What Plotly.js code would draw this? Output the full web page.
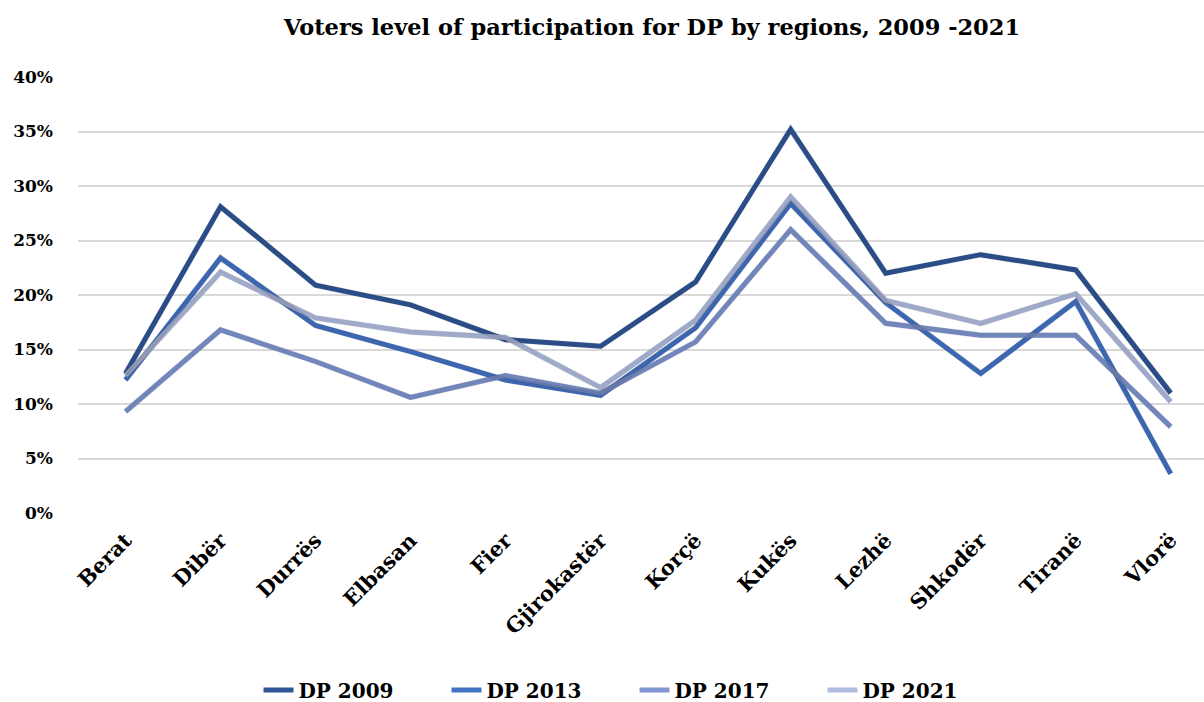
<!DOCTYPE html>
<html>
<head>
<meta charset="utf-8">
<script src="https://cdn.plot.ly/plotly-3.0.1.min.js"></script>
<style>
  html, body { margin: 0; padding: 0; background: #fff; }
  #chart { width: 1204px; height: 702px; }
</style>
</head>
<body>
<div id="chart"></div>
<script>
const regions = ["Berat", "Dibër", "Durrës", "Elbasan", "Fier", "Gjirokastër", "Korçë", "Kukës", "Lezhë", "Shkodër", "Tiranë", "Vlorë"];
const dp2009 = [0.128, 0.281, 0.209, 0.191, 0.159, 0.153, 0.212, 0.352, 0.220, 0.237, 0.223, 0.110];
const dp2013 = [0.122, 0.234, 0.172, 0.148, 0.122, 0.108, 0.170, 0.284, 0.193, 0.128, 0.194, 0.036];
const dp2017 = [0.093, 0.168, 0.139, 0.106, 0.126, 0.110, 0.157, 0.260, 0.174, 0.163, 0.163, 0.079];
const dp2021 = [0.126, 0.221, 0.179, 0.166, 0.161, 0.115, 0.177, 0.290, 0.195, 0.174, 0.201, 0.102];

const seriesNames = ["DP 2009", "DP 2013", "DP 2017", "DP 2021"];
const seriesData = [dp2009, dp2013, dp2017, dp2021];
const seriesColors = ["#2F5597", "#4472C4", "#7F96D2", "#B1BDE0"];

const FONT = "'DejaVu Serif', 'Liberation Serif', serif";

const traces = [];
// soft shadows drawn on a slightly offset overlay axis pair
seriesData.forEach((d, i) => {
  traces.push({
    x: regions, y: d, type: "scatter", mode: "lines",
    xaxis: "x2", yaxis: "y2",
    line: { color: "rgba(0,0,0,0.10)", width: 6 },
    hoverinfo: "skip", showlegend: false
  });
});
seriesData.forEach((d, i) => {
  traces.push({
    x: regions, y: d, type: "scatter", mode: "lines",
    name: "<b>" + seriesNames[i] + "</b>",
    line: { color: seriesColors[i], width: 5 }
  });
});

const W = 1204, H = 702;
const L = 78, R = 0, T = 77, B = 189;
const pw = W - L - R, ph = H - T - B;
const dx = 3 / pw, dy = 3 / ph;

const layout = {
  width: W, height: H,
  margin: { l: L, r: R, t: T, b: B },
  paper_bgcolor: "#fff", plot_bgcolor: "rgba(0,0,0,0)",
  font: { family: FONT, color: "#000", size: 18 },
  title: {
    text: "<b>Voters level of participation for DP by regions, 2009 -2021</b>",
    font: { family: FONT, size: 22.5, color: "#000" },
    x: 0.5415, xanchor: "center", xref: "container",
    y: 0.962, yanchor: "middle", yref: "container"
  },
  xaxis: {
    type: "category", range: [-0.5, 11.35], domain: [0, 1],
    showgrid: false, zeroline: false, showline: false, ticks: "",
    tickangle: -45, tickfont: { family: FONT, size: 21, color: "#000", weight: "bold" },
    ticklabelstandoff: 10
  },
  yaxis: {
    range: [0, 0.4], dtick: 0.05, tickformat: ".0%",
    showgrid: true, gridcolor: "#D9D9D9", gridwidth: 2,
    zeroline: false, showline: false, ticks: "",
    tickfont: { family: FONT, size: 17, color: "#000", weight: "bold" },
    ticklabelstandoff: 24
  },
  xaxis2: {
    type: "category", range: [-0.5, 11.35], domain: [dx, 1],
    overlaying: "x", visible: false, anchor: "y2"
  },
  yaxis2: {
    range: [0, 0.4], domain: [-dy, 1 - dy],
    overlaying: "y", visible: false, anchor: "x2"
  },
  legend: {
    orientation: "h", x: 0.527, xanchor: "center", xref: "container",
    y: 0.017, yanchor: "middle", yref: "container",
    font: { family: FONT, size: 20, color: "#000" },
    entrywidth: 143, entrywidthmode: "pixels",
    tracegroupgap: 0, itemsizing: "constant"
  },
  showlegend: true
};

Plotly.newPlot("chart", traces, layout, { displayModeBar: false, staticPlot: true });
</script>
</body>
</html>
